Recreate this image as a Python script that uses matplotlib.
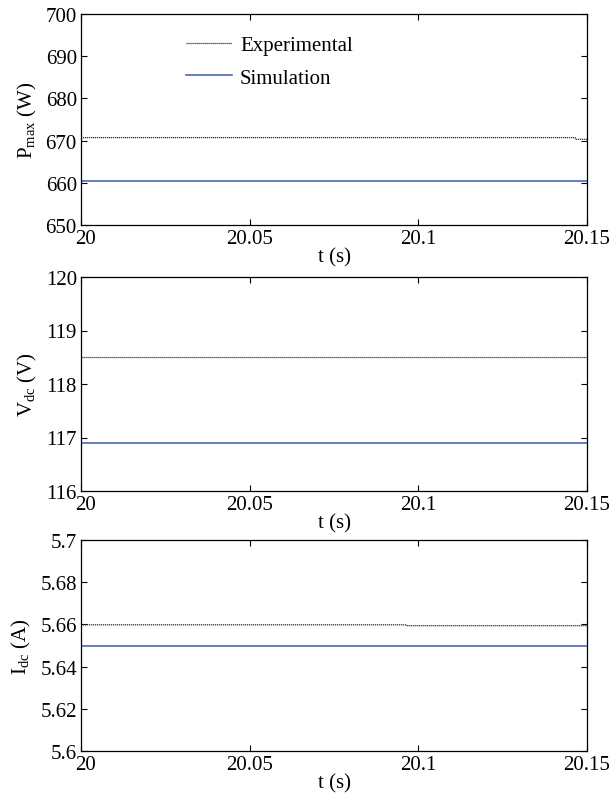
import numpy as np
import matplotlib
matplotlib.use("Agg")
import matplotlib.pyplot as plt
from matplotlib.transforms import ScaledTranslation

plt.rcParams['font.family'] = ['Liberation Serif', 'DejaVu Serif']
plt.rcParams['mathtext.fontset'] = 'custom'
plt.rcParams['mathtext.rm'] = 'Liberation Serif'
plt.rcParams['font.size'] = 14

# data (step-wise constant signals)
t_exp_p = [20.0, 20.1465, 20.1467, 20.15]
p_exp = [670.7, 670.7, 670.3, 670.3]
t_sim_p = [20.0, 20.15]
p_sim = [660.4, 660.4]

t_exp_v = [20.0, 20.15]
v_exp = [118.5, 118.5]
t_sim_v = [20.0, 20.15]
v_sim = [116.9, 116.9]

t_exp_i = [20.0, 20.0965, 20.0967, 20.15]
i_exp = [5.6598, 5.6598, 5.6594, 5.6594]
t_sim_i = [20.0, 20.15]
i_sim = [5.650, 5.650]

x_ticks = [20, 20.05, 20.1, 20.15]
x_ticklabels = ['20', '20.05', '20.1', '20.15']

panels = [
    (t_exp_p, p_exp, t_sim_p, p_sim, (650, 700), [650, 660, 670, 680, 690, 700],
     ['650', '660', '670', '680', '690', '700'], r'P$_{\rm max}$ (W)'),
    (t_exp_v, v_exp, t_sim_v, v_sim, (116, 120), [116, 117, 118, 119, 120],
     ['116', '117', '118', '119', '120'], r'V$_{\rm dc}$ (V)'),
    (t_exp_i, i_exp, t_sim_i, i_sim, (5.6, 5.7), [5.6, 5.62, 5.64, 5.66, 5.68, 5.7],
     ['5.6', '5.62', '5.64', '5.66', '5.68', '5.7'], r'I$_{\rm dc}$ (A)'),
]

fig = plt.figure(figsize=(6.09, 8.04), dpi=100)
W, H = 609, 804
left, right = 81, 587
tops = [15, 278, 541]
bottoms = [226, 492, 752]

for k, (te, ye, ts, ys, ylim, yt, ytl, ylab) in enumerate(panels):
    ax = fig.add_axes([left / W, 1 - bottoms[k] / H, (right - left) / W,
                       (bottoms[k] - tops[k]) / H])
    ax.plot(te, ye, color='#333333', lw=0.9, ls=(0, (1, 0.6)), label='Experimental')
    ax.plot(ts, ys, color='#4a69b5', lw=1.2, label='Simulation')
    ax.set_xlim(20, 20.15)
    ax.set_ylim(*ylim)
    ax.set_xticks(x_ticks)
    ax.set_xticklabels(x_ticklabels)
    ax.set_yticks(yt)
    ax.set_yticklabels(ytl)
    ax.tick_params(direction='in', top=True, right=True, length=4, width=0.8,
                   labelsize=15, pad=3)
    # first x label sits a little right of the corner, as in the original
    first = ax.get_xticklabels()[0]
    first.set_transform(first.get_transform() +
                        ScaledTranslation(4 / 100, 0, fig.dpi_scale_trans))
    ax.set_xlabel('t (s)', fontsize=15, labelpad=-1)
    ax.set_ylabel(ylab, fontsize=15, labelpad=5)
    for s in ax.spines.values():
        s.set_linewidth(0.9)
    if k == 0:
        ax.legend(loc='upper left', bbox_to_anchor=(0.17, 0.985), frameon=False,
                  fontsize=15, handlelength=2.2, handletextpad=0.4, labelspacing=0.6)

fig.savefig('out.png', dpi=100)
